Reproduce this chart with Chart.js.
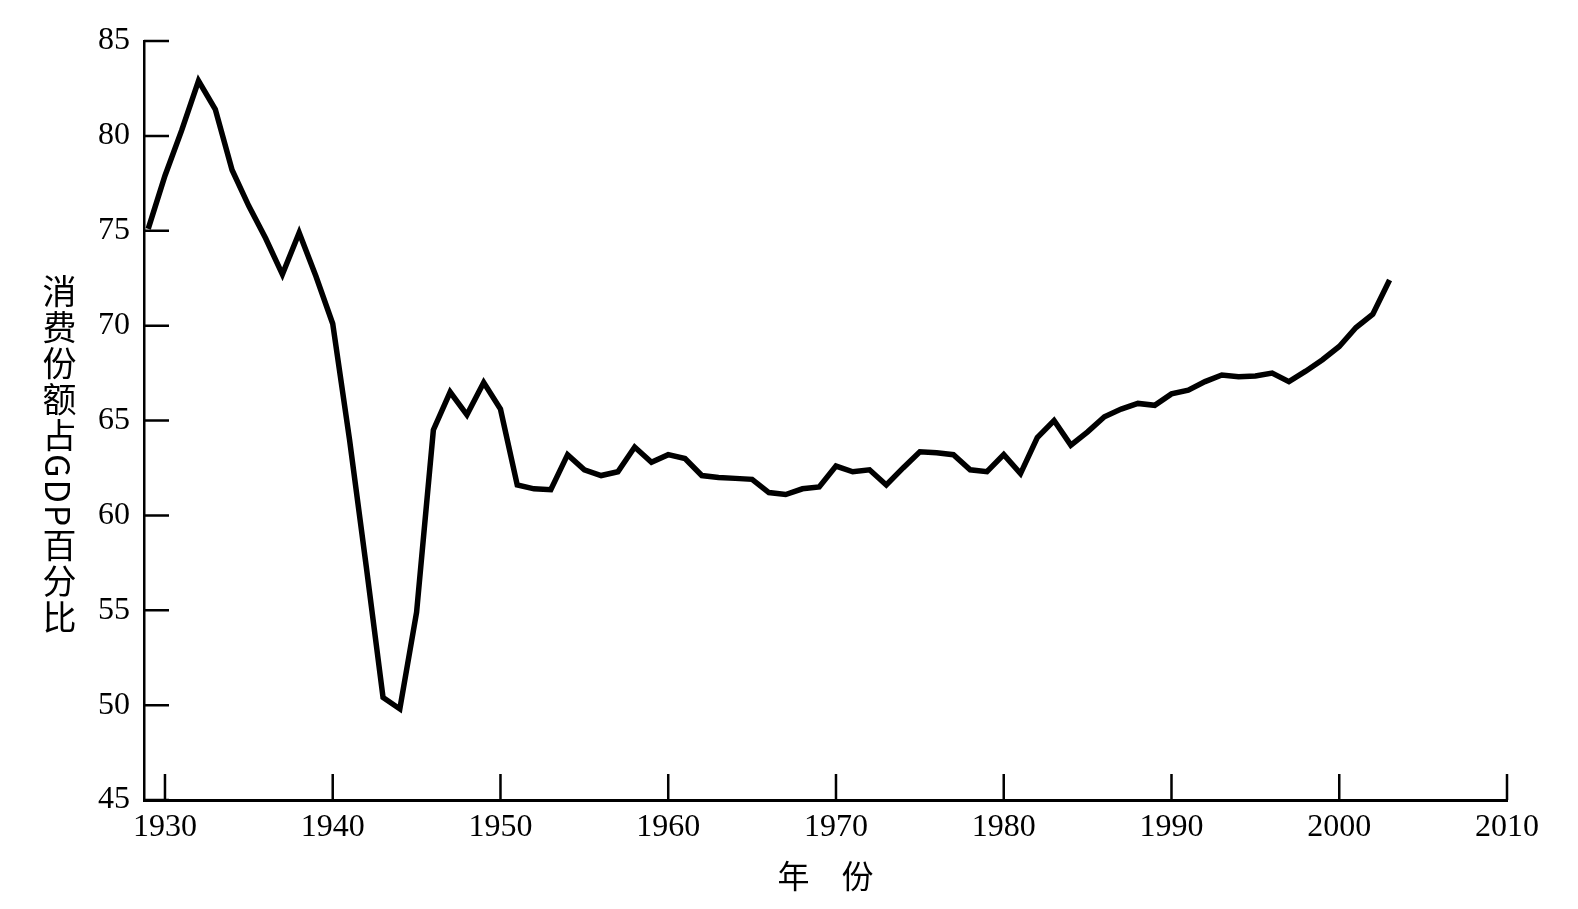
<!DOCTYPE html>
<html>
<head>
<meta charset="utf-8">
<script src="https://cdn.jsdelivr.net/npm/chart.js@4.4.0/dist/chart.umd.min.js"></script>
<style>
  html, body { margin: 0; padding: 0; background: #fff; }
  #wrap { position: relative; width: 1578px; height: 909px; }
  #yTitle {
    position: absolute; left: 42px; top: 274px;
    writing-mode: vertical-rl; text-orientation: mixed;
    font-family: "Noto Sans CJK SC"; font-size: 34px; line-height: 34px;
    letter-spacing: 2px; color: #000;
  }
</style>
</head>
<body>
<div id="wrap">
  <canvas id="chart" width="1578" height="909"></canvas>
  <div id="yTitle">消费份额占GDP百分比</div>
</div>
<script>
// 年份
const years = [
  1929, 1930, 1931, 1932, 1933, 1934, 1935, 1936, 1937, 1938, 1939,
  1940, 1941, 1942, 1943, 1944, 1945, 1946, 1947, 1948, 1949,
  1950, 1951, 1952, 1953, 1954, 1955, 1956, 1957, 1958, 1959,
  1960, 1961, 1962, 1963, 1964, 1965, 1966, 1967, 1968, 1969,
  1970, 1971, 1972, 1973, 1974, 1975, 1976, 1977, 1978, 1979,
  1980, 1981, 1982, 1983, 1984, 1985, 1986, 1987, 1988, 1989,
  1990, 1991, 1992, 1993, 1994, 1995, 1996, 1997, 1998, 1999,
  2000, 2001, 2002, 2003
];
// 消费份额占GDP百分比
const share = [
  75.1, 77.9, 80.3, 82.9, 81.4, 78.2, 76.3, 74.6, 72.7, 74.9, 72.6,
  70.1, 64.0, 57.3, 50.4, 49.8, 54.9, 64.5, 66.5, 65.3, 67.0,
  65.6, 61.6, 61.4, 61.35, 63.2, 62.4, 62.1, 62.3, 63.6, 62.8,
  63.2, 63.0, 62.1, 62.0, 61.95, 61.9, 61.2, 61.1, 61.4, 61.5,
  62.6, 62.3, 62.4, 61.6, 62.5, 63.35, 63.3, 63.2, 62.4, 62.3,
  63.2, 62.2, 64.1, 65.0, 63.7, 64.4, 65.2, 65.6, 65.9, 65.8,
  66.4, 66.6, 67.05, 67.4, 67.3, 67.35, 67.5, 67.05, 67.6, 68.2,
  68.9, 69.9, 70.6, 72.4
];
const xTicks = [1930, 1940, 1950, 1960, 1970, 1980, 1990, 2000, 2010];
const yTicks = [45, 50, 55, 60, 65, 70, 75, 80, 85];

// ticks pointing into the plot
const inwardTicks = {
  id: 'inwardTicks',
  afterDraw(chart) {
    const { ctx, chartArea, scales: { x, y } } = chart;
    ctx.save();
    ctx.strokeStyle = '#000';
    ctx.lineWidth = 2.5;
    ctx.beginPath();
    xTicks.forEach(v => {
      const px = x.getPixelForValue(v);
      ctx.moveTo(px, chartArea.bottom);
      ctx.lineTo(px, chartArea.bottom - 26);
    });
    yTicks.forEach(v => {
      const py = y.getPixelForValue(v);
      ctx.moveTo(chartArea.left, py);
      ctx.lineTo(chartArea.left + 25, py);
    });
    ctx.stroke();
    ctx.restore();
  }
};

const tickFont = { family: 'Liberation Serif', size: 32 };

new Chart(document.getElementById('chart'), {
  type: 'line',
  data: {
    datasets: [{
      data: years.map((yr, i) => ({ x: yr, y: share[i] })),
      borderColor: '#000',
      borderWidth: 5.5,
      pointRadius: 0,
      tension: 0,
      fill: false
    }]
  },
  options: {
    responsive: false,
    animation: false,
    layout: { autoPadding: false, padding: { top: 41, right: 71, left: 0, bottom: 0 } },
    plugins: { legend: { display: false }, tooltip: { enabled: false } },
    scales: {
      x: {
        type: 'linear',
        min: 1928.75,
        max: 2010,
        afterBuildTicks: s => { s.ticks = xTicks.map(v => ({ value: v })); },
        afterFit: s => { s.height = 109; },
        grid: { drawOnChartArea: false, drawTicks: false },
        border: { display: true, color: '#000', width: 3 },
        ticks: {
          font: tickFont, color: '#000', padding: 8, maxRotation: 0, autoSkip: false,
          callback: v => String(v)
        },
        title: {
          display: true,
          text: '年\u3000份',
          font: { family: 'Noto Sans CJK SC', size: 32 },
          color: '#000',
          padding: { top: 0, bottom: 14 }
        }
      },
      y: {
        min: 45,
        max: 85,
        afterBuildTicks: s => { s.ticks = yTicks.map(v => ({ value: v })); },
        afterFit: s => { s.width = 144; },
        grid: { drawOnChartArea: false, drawTicks: false },
        border: { display: true, color: '#000', width: 2.5 },
        ticks: { font: tickFont, color: '#000', padding: 14, callback: v => String(v) }
      }
    }
  },
  plugins: [inwardTicks]
});
</script>
</body>
</html>
